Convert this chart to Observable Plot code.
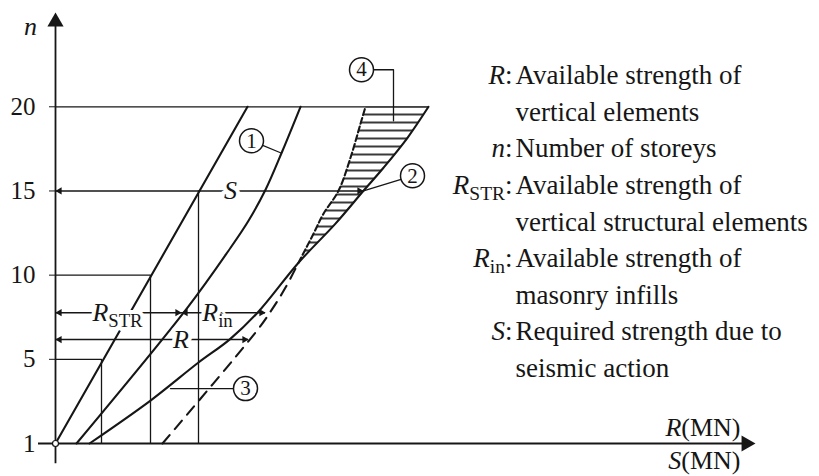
<!DOCTYPE html>
<html><head><meta charset="utf-8">
<script src="https://cdn.jsdelivr.net/npm/d3@7"></script>
<script src="https://cdn.jsdelivr.net/npm/@observablehq/plot@0.6"></script>
<style>
html,body{margin:0;padding:0;background:#fff}
svg{display:block}
</style>
</head><body><div id="chart"></div>
<script>
// ---------- data (x: MN, schematic units; n: storey position) ----------
const yTicks = [0, 5, 10, 15, 20];
const yTickLabels = ["1", "5", "10", "15", "20"];

// straight line from the origin
const lineStrN = [0, 20];
const lineStrX = [0, 19.2];

// curve (1)
const curve1N = [0, 8.07, 11.45, 13.23, 15.07, 17.39, 20];
const curve1X = [2.1, 13.2, 17.3, 19.3, 21.0, 22.7, 24.5];

// solid curve (3) / right edge of hatched zone
const curve3N = [0, 2.55, 4.81, 6.17, 7.77, 10.74, 13.06, 15.01, 16.38, 18.16, 20];
const curve3X = [3.4, 9.5, 14.3, 17.4, 20.2, 24.3, 28.0, 30.8, 32.8, 35.2, 37.3];

// dashed curve / left edge of hatched zone
const dashN = [0, 6.82, 8.01, 9.26, 10.74, 12.46, 13.65, 15.01, 16.97, 18.99, 20];
const dashX = [10.7, 20.3, 21.7, 23.0, 24.3, 25.8, 26.8, 28.3, 29.5, 30.5, 31.0];
const mergeN = 10.74;

// horizontal guide lines (n, right end) and vertical drops (x, top)
const guideN = [20, 10, 5];
const guideX2 = [37.3, 9.5, 4.6];
const dropX = [4.6, 9.5, 14.3];
const dropN = [5, 10, 15];

// dimension arrows
const arrowN = [15, 7.77, 7.77, 6.17];
const arrowX1 = [0, 0, 12.6, 0];
const arrowX2 = [30.8, 12.6, 21.0, 19.3];
const arrowLabels = ["*S*", "*R*~STR~", "*R*~in~", "*R*"];
const arrowLabelX = [17.5, 6.2, 16.2, 12.55];

// circled markers and their leader lines
const markerLabels = ["1", "2", "3", "4"];
const markerX = [19.6, 35.7, 19.0, 30.6];
const markerN = [17.98, 15.9, 3.26, 22.2];
const leader1 = {x: [19.6, 22.5], n: [17.98, 17.27]};
const leader2 = {x: [35.7, 30.8], n: [15.9, 15.01]};
const leader3 = {x: [19.0, 11.5], n: [3.26, 3.26]};
const leader4 = {x: [30.6, 33.8, 33.8], n: [22.2, 22.2, 19.17]};

// legend
const legendKeys = ["*R*:", "*n*:", "*R*~STR~:", "*R*~in~:", "*S*:"];
const legendLines = [
  ["Available strength of", "vertical elements"],
  ["Number of storeys"],
  ["Available strength of", "vertical structural elements"],
  ["Available strength of", "masonry infills"],
  ["Required strength due to", "seismic action"]
];
const axisLabelR = "*R*(MN)";
const axisLabelS = "*S*(MN)";
const axisLabelN = "*n*";

// ---------- layout ----------
const xMax = 70, nMax = 25.6;
const font = "'Liberation Serif', 'DejaVu Serif', serif";
const ink = "#161616";

const pts = (xs, ns) => xs.map((x, i) => ({x, n: ns[i]}));
const lineStr = pts(lineStrX, lineStrN);
const curve1 = pts(curve1X, curve1N);
const curve3 = pts(curve3X, curve3N);
const dash = pts(dashX, dashN);
const hatchPoly = [...dash.filter(d => d.n >= mergeN), ...curve3.filter(d => d.n >= mergeN).reverse()];
const guides = guideN.map((n, i) => ({n, x2: guideX2[i]}));
const drops = dropX.map((x, i) => ({x, n2: dropN[i]}));
const arrows = arrowN.map((n, i) => ({n, x1: arrowX1[i], x2: arrowX2[i]}));
const arrowTexts = arrowLabels.map((t, i) => ({t, x: arrowLabelX[i], n: arrowN[i]}));
const markers = markerLabels.map((t, i) => ({t, x: markerX[i], n: markerN[i]}));
const leaders = [leader1, leader2, leader3, leader4].flatMap((l, k) => l.x.map((x, i) => ({k, x, n: l.n[i]})));

const legendRows = [], legendKeyRows = [];
legendLines.forEach((lines, k) => {
  legendKeyRows.push({t: legendKeys[k], row: legendRows.length});
  lines.forEach(t => legendRows.push({t, row: legendRows.length}));
});
const legendTopN = 21.86, legendStepN = 2.174, legendKeyX = 45.7, legendTextX = 46.0;

const chart = Plot.plot({
  width: 819, height: 476,
  marginLeft: 55, marginRight: 64, marginTop: 12, marginBottom: 33,
  style: {fontFamily: font, fontSize: "25px", color: ink, background: "#fff"},
  x: {domain: [0, xMax], axis: null},
  y: {domain: [0, nMax], ticks: yTicks, tickFormat: (d) => yTickLabels[yTicks.indexOf(d)], tickSize: 6, tickPadding: 14, label: null},
  marks: [
    // hatched zone (4)
    Plot.line(hatchPoly, {x: "x", y: "n", fill: "url(#hatch)", stroke: "none"}),
    // guide lines
    Plot.ruleY(guides, {y: "n", x1: 0, x2: "x2", stroke: ink, strokeWidth: 1.3}),
    // curves
    Plot.line(lineStr, {x: "x", y: "n", stroke: ink, strokeWidth: 2.1}),
    Plot.line(curve1, {x: "x", y: "n", stroke: ink, strokeWidth: 2.1, curve: "catmull-rom"}),
    Plot.line(curve3, {x: "x", y: "n", stroke: ink, strokeWidth: 2.1, curve: "catmull-rom"}),
    Plot.line(dash.filter(d => d.n <= mergeN), {x: "x", y: "n", stroke: ink, strokeWidth: 2.1, strokeDasharray: "11,8", curve: "catmull-rom"}),
    Plot.line(dash.filter(d => d.n >= mergeN), {x: "x", y: "n", stroke: ink, strokeWidth: 2.1, strokeDasharray: "6,3", curve: "catmull-rom"}),
    // dimension arrows
    Plot.ruleY(arrows, {y: "n", x1: "x1", x2: "x2", stroke: ink, strokeWidth: 1.5}),
    Plot.dot(arrows, {x: "x1", y: "n", symbol: "triangle", r: 2.7, fill: ink, stroke: "none", rotate: -90, dx: 4}),
    Plot.dot(arrows, {x: "x2", y: "n", symbol: "triangle", r: 2.7, fill: ink, stroke: "none", rotate: 90, dx: -4}),
    // leaders and circled markers
    Plot.line(leaders, {x: "x", y: "n", z: "k", stroke: ink, strokeWidth: 1.3}),
    Plot.dot(markers, {x: "x", y: "n", r: 12, fill: "#fff", stroke: ink, strokeWidth: 1.5}),
    Plot.text(markers, {x: "x", y: "n", text: "t", fontSize: 21, fill: ink}),
    // labels on the arrows (white halo breaks lines)
    Plot.text(arrowTexts, {x: "x", y: "n", text: "t", fontSize: 26, fill: ink, stroke: "#fff", strokeWidth: 8, paintOrder: "stroke"}),
    // vertical drop lines
    Plot.ruleX(drops, {x: "x", y1: 0, y2: "n2", stroke: ink, strokeWidth: 1.3}),
    // axes
    Plot.ruleX([0], {y1: -1.2, y2: nMax - 0.6, stroke: ink, strokeWidth: 1.8}),
    Plot.ruleY([0], {x1: -1.7, x2: xMax - 0.6, stroke: ink, strokeWidth: 1.8}),
    Plot.dot([0], {x: 0, y: nMax, symbol: "triangle", r: 6, fill: ink, stroke: "none", dy: 9.3}),
    Plot.dot([0], {x: xMax, y: 0, symbol: "triangle", r: 6, fill: ink, stroke: "none", rotate: 90, dx: -9.3}),
    Plot.dot([0], {x: 0, y: 0, r: 3, fill: "#fff", stroke: ink, strokeWidth: 1.2}),
    Plot.text([axisLabelN], {x: -2.5, y: 24.77, text: d => d, fontSize: 26, fill: ink}),
    Plot.text([axisLabelR], {x: 68.5, y: 0.95, text: d => d, textAnchor: "end", fontSize: 26, fill: ink}),
    Plot.text([axisLabelS], {x: 68.5, y: -1.0, text: d => d, textAnchor: "end", fontSize: 26, fill: ink}),
    // legend
    Plot.text(legendKeyRows, {x: legendKeyX, y: d => legendTopN - d.row * legendStepN, text: "t", textAnchor: "end", fontSize: 27, fill: ink}),
    Plot.text(legendRows, {x: legendTextX, y: d => legendTopN - d.row * legendStepN, text: "t", textAnchor: "start", fontSize: 27, fill: ink})
  ]
});

// hatch pattern
const NS = "http://www.w3.org/2000/svg";
const defs = document.createElementNS(NS, "defs");
const pat = document.createElementNS(NS, "pattern");
pat.setAttribute("id", "hatch");
pat.setAttribute("patternUnits", "userSpaceOnUse");
pat.setAttribute("width", "12");
pat.setAttribute("height", "8");
const pl = document.createElementNS(NS, "line");
pl.setAttribute("x1", "0"); pl.setAttribute("x2", "12");
pl.setAttribute("y1", "2"); pl.setAttribute("y2", "2");
pl.setAttribute("stroke", ink); pl.setAttribute("stroke-width", "1.7");
pat.appendChild(pl); defs.appendChild(pat);
chart.insertBefore(defs, chart.firstChild);

// rich text: *italic*, ~subscript~
chart.querySelectorAll("text").forEach(t => {
  const s = t.textContent;
  if (!/[*~]/.test(s)) return;
  const parts = s.match(/\*[^*]+\*|~[^~]+~|[^*~]+/g);
  while (t.firstChild) t.removeChild(t.firstChild);
  let prevSub = false;
  for (const p of parts) {
    const ts = document.createElementNS(NS, "tspan");
    if (p[0] === "~") {
      ts.textContent = p.slice(1, -1);
      ts.setAttribute("font-size", "0.72em");
      ts.setAttribute("dy", "0.32em");
      prevSub = true;
    } else {
      if (p[0] === "*") { ts.textContent = p.slice(1, -1); ts.setAttribute("font-style", "italic"); }
      else ts.textContent = p;
      if (prevSub) ts.setAttribute("dy", "-0.23em");
      prevSub = false;
    }
    t.appendChild(ts);
  }
});

document.getElementById("chart").appendChild(chart);
</script>
</body></html>
